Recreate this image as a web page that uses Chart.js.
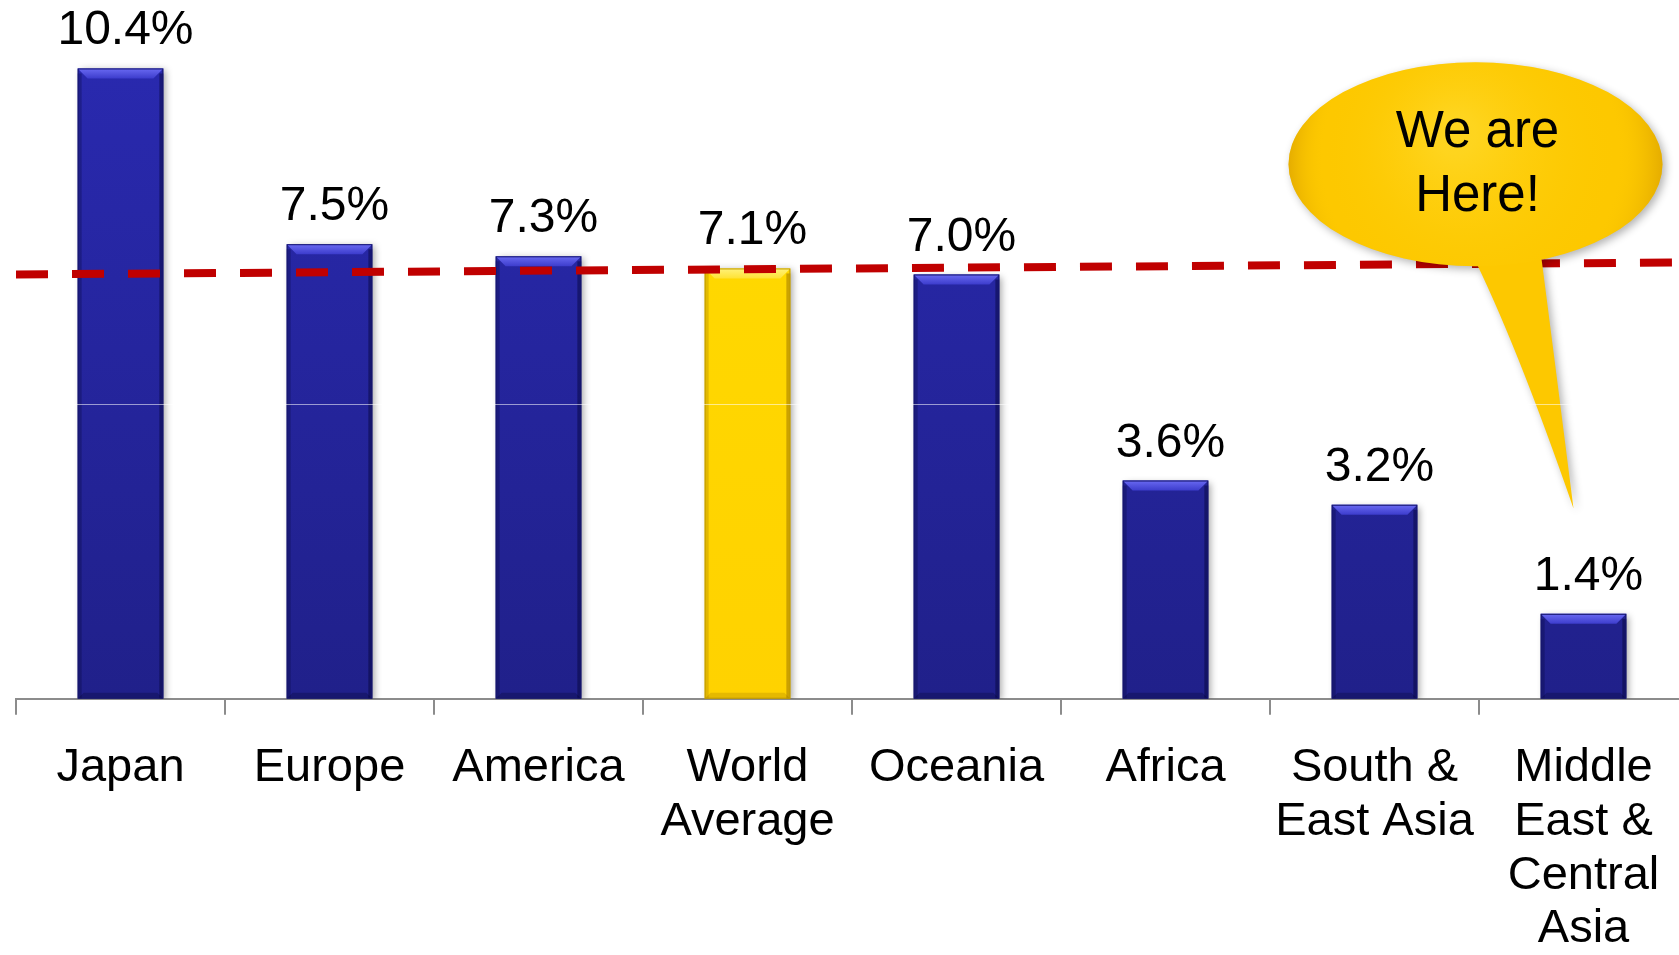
<!DOCTYPE html>
<html>
<head>
<meta charset="utf-8">
<script src="https://cdn.jsdelivr.net/npm/chart.js@4.4.1/dist/chart.umd.min.js"></script>
<style>
html, body { margin: 0; padding: 0; background: #fff; overflow: hidden; }
#wrap { width: 1700px; height: 987px; }
</style>
</head>
<body>
<div id="wrap"><canvas id="chart" width="1700" height="987"></canvas></div>
<script>
// Datos del gráfico
const regions = ['Japan', 'Europe', 'America', ['World', 'Average'], 'Oceania', 'Africa', ['South &', 'East Asia'], ['Middle', 'East &', 'Central', 'Asia']];
const shares = [10.4, 7.5, 7.3, 7.1, 7.0, 3.6, 3.2, 1.4];
const highlight = [false, false, false, true, false, false, false, false];
const avgLine = [7.0, 7.2];
const calloutText = ['We are', 'Here!'];
const gridValue = 4.87;

const FONT = '"Liberation Sans", Arial, Helvetica, sans-serif';

// Degradado vertical para las barras
function barFill(context) {
    const chart = context.chart;
    const area = chart.chartArea;
    const yellow = highlight[context.dataIndex];
    if (!area) return yellow ? '#FFD600' : '#2626A6';
    const g = chart.ctx.createLinearGradient(0, area.top, 0, area.bottom);
    if (yellow) {
        g.addColorStop(0, '#FFDB00');
        g.addColorStop(1, '#FFD200');
    } else {
        g.addColorStop(0, '#2A2AB2');
        g.addColorStop(1, '#20208A');
    }
    return g;
}

// Sombra, bisel y etiquetas de las barras
const barDecor = {
    id: 'barDecor',
    beforeDatasetDraw(chart, args) {
        if (args.meta.type !== 'bar') return;
        const ctx = chart.ctx;
        ctx.save();
        ctx.shadowColor = 'rgba(0,0,0,0.35)';
        ctx.shadowBlur = 7;
        ctx.shadowOffsetX = 3;
        ctx.shadowOffsetY = 2;
    },
    afterDatasetDraw(chart, args) {
        if (args.meta.type !== 'bar') return;
        const ctx = chart.ctx;
        ctx.restore();
        args.meta.data.forEach((el, i) => {
            const { x, y, width, base } = el.getProps(['x', 'y', 'width', 'base'], true);
            const l = x - width / 2, r = x + width / 2;
            const yellow = highlight[i];
            const b = 10;
            ctx.save();
            // bisel superior
            const tg = ctx.createLinearGradient(0, y, 0, y + b);
            tg.addColorStop(0, yellow ? '#FFF27A' : '#6A6AF2');
            tg.addColorStop(1, yellow ? '#FFE234' : '#3C3CCC');
            ctx.fillStyle = tg;
            ctx.beginPath();
            ctx.moveTo(l, y); ctx.lineTo(r, y); ctx.lineTo(r - b, y + b); ctx.lineTo(l + b, y + b);
            ctx.closePath(); ctx.fill();
            // bisel inferior
            ctx.fillStyle = yellow ? 'rgba(150,110,0,0.25)' : 'rgba(0,0,30,0.25)';
            ctx.beginPath();
            ctx.moveTo(l, base); ctx.lineTo(r, base); ctx.lineTo(r - 6, base - 6); ctx.lineTo(l + 6, base - 6);
            ctx.closePath(); ctx.fill();
            // bordes laterales
            ctx.fillStyle = yellow ? 'rgba(160,120,0,0.3)' : 'rgba(0,0,40,0.25)';
            ctx.fillRect(l, y + b / 2, 4, base - y - b / 2);
            ctx.fillStyle = yellow ? 'rgba(140,100,0,0.45)' : 'rgba(0,0,40,0.4)';
            ctx.fillRect(r - 4, y + b / 2, 4, base - y - b / 2);
            ctx.strokeStyle = yellow ? '#C09A00' : '#16166E';
            ctx.lineWidth = 1;
            ctx.strokeRect(l + 0.5, y + 0.5, width - 1, base - y - 1);
            // etiqueta de valor
            ctx.fillStyle = '#000';
            ctx.font = '48px ' + FONT;
            ctx.textAlign = 'center';
            ctx.textBaseline = 'alphabetic';
            ctx.fillText(shares[i].toFixed(1) + '%', x + 5, y - 24);
            ctx.restore();
        });
    }
};

// Globo "We are Here!" y línea tenue de la cuadrícula
const callout = {
    id: 'callout',
    afterDraw(chart) {
        const ctx = chart.ctx;
        const xs = chart.scales.x, ys = chart.scales.y;
        const last = xs.getPixelForValue(regions.length - 1);
        const cx = last - 108, cy = ys.getPixelForValue(8.82);
        const rx = 187, ry = 102;
        const tipX = last - 10, tipY = ys.getPixelForValue(3.14);
        const baseY = cy + ry * 0.85;

        ctx.save();
        ctx.beginPath();
        ctx.ellipse(cx, cy, rx, ry, 0, 0, Math.PI * 2);
        ctx.moveTo(cx - 5, baseY);
        ctx.lineTo(cx + 65, baseY);
        ctx.quadraticCurveTo(tipX - 20, baseY + 100, tipX, tipY);
        ctx.quadraticCurveTo(cx + 40, baseY + 90, cx - 5, baseY);
        ctx.closePath();
        ctx.shadowColor = 'rgba(0,0,0,0.3)';
        ctx.shadowBlur = 8;
        ctx.shadowOffsetX = 3;
        ctx.shadowOffsetY = 3;
        ctx.fillStyle = '#FDC800';
        ctx.fill();
        ctx.restore();

        ctx.save();
        const rg = ctx.createRadialGradient(cx - 20, cy - 30, 20, cx, cy, rx);
        rg.addColorStop(0, 'rgba(255,225,60,0.5)');
        rg.addColorStop(0.75, 'rgba(255,205,0,0)');
        rg.addColorStop(1, 'rgba(200,140,0,0.45)');
        ctx.beginPath();
        ctx.ellipse(cx, cy, rx, ry, 0, 0, Math.PI * 2);
        ctx.fillStyle = rg;
        ctx.fill();

        ctx.fillStyle = '#000';
        ctx.font = '51px ' + FONT;
        ctx.textAlign = 'center';
        ctx.textBaseline = 'middle';
        ctx.fillText(calloutText[0], cx + 2, cy - 31);
        ctx.fillText(calloutText[1], cx + 2, cy + 33);
        ctx.restore();

        // línea blanca tenue
        const gy = Math.round(ys.getPixelForValue(gridValue)) + 0.5;
        ctx.save();
        ctx.strokeStyle = 'rgba(255,255,255,0.55)';
        ctx.lineWidth = 1;
        ctx.beginPath();
        ctx.moveTo(chart.chartArea.left, gy);
        ctx.lineTo(chart.chartArea.right, gy);
        ctx.stroke();
        ctx.restore();
    }
};

new Chart(document.getElementById('chart'), {
    type: 'bar',
    data: {
        labels: regions,
        datasets: [
            {
                type: 'line',
                xAxisID: 'x2',
                data: avgLine.map((v, i) => ({ x: i, y: v })),
                borderColor: '#C00000',
                borderWidth: 8,
                borderDash: [32, 24],
                pointRadius: 0,
                fill: false,
                order: 0
            },
            {
                type: 'bar',
                data: shares,
                backgroundColor: barFill,
                borderWidth: 0,
                grouped: false,
                barPercentage: 0.41,
                categoryPercentage: 1,
                order: 1
            }
        ]
    },
    options: {
        responsive: false,
        animation: false,
        layout: { padding: { left: 16, right: 12, top: 0, bottom: 4 } },
        plugins: { legend: { display: false }, tooltip: { enabled: false } },
        scales: {
            x: {
                offset: true,
                grid: {
                    display: true,
                    drawOnChartArea: false,
                    drawTicks: true,
                    tickLength: 16,
                    color: '#8c8c8c',
                    lineWidth: 2,
                    offset: true
                },
                border: { display: true, color: '#8c8c8c', width: 2 },
                ticks: {
                    color: '#000',
                    font: { family: FONT, size: 47, lineHeight: 1.14 },
                    padding: 27,
                    autoSkip: false,
                    maxRotation: 0,
                    minRotation: 0
                }
            },
            x2: { type: 'linear', min: 0, max: avgLine.length - 1, display: false, offset: false },
            y: { display: false, min: 0, max: 11.53 }
        }
    },
    plugins: [barDecor, callout]
});
</script>
</body>
</html>
